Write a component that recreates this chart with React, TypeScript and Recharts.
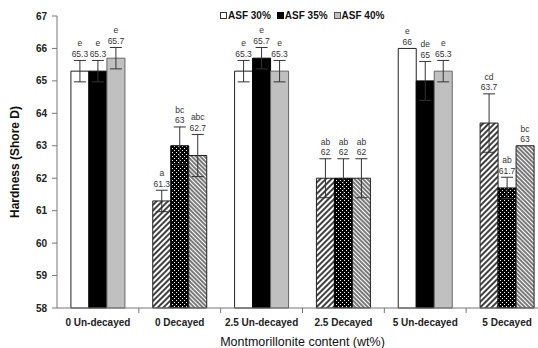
import React from 'react';
import { BarChart, Bar, XAxis, YAxis, ErrorBar, LabelList, Cell } from 'recharts';

// categories and series
const categories = ['0 Un-decayed', '0 Decayed', '2.5 Un-decayed', '2.5 Decayed', '5 Un-decayed', '5 Decayed'];
const asf30 = [65.3, 61.3, 65.3, 62, 66, 63.7];
const asf35 = [65.3, 63, 65.7, 62, 65, 61.7];
const asf40 = [65.7, 62.7, 65.3, 62, 65.3, 63];
const err30 = [0.33, 0.33, 0.33, 0.6, 0, 0.9];
const err35 = [0.33, 0.58, 0.33, 0.6, 0.6, 0.33];
const err40 = [0.33, 0.65, 0.33, 0.6, 0.33, 0];
const letters30 = ['e', 'a', 'e', 'ab', 'e', 'cd'];
const letters35 = ['e', 'bc', 'e', 'ab', 'de', 'ab'];
const letters40 = ['e', 'abc', 'e', 'ab', 'e', 'bc'];
const yTicks = [58, 59, 60, 61, 62, 63, 64, 65, 66, 67];

const decayed = categories.map((c) => c.includes(' Decayed'));

const data = categories.map((name, i) => ({
  name,
  v30: asf30[i],
  v35: asf35[i],
  v40: asf40[i],
  e30: err30[i],
  e35: err35[i],
  e40: err40[i],
}));

const FONT = '"Liberation Sans", Arial, sans-serif';
const CHART_W = 548;
const CHART_H = 348;
const Y_W = 57;
const BAND = (CHART_W - Y_W) / categories.length;
const Y_MIN = 58;

const makeLabel = (letters: string[], errs: number[]) => (props: any) => {
  const { x, y, width, height, value, index } = props;
  const perUnit = height / (value - Y_MIN);
  const top = y - errs[index] * perUnit;
  const cx = x + width / 2;
  return (
    <g fontFamily={FONT} fontSize={8.5} fill="#333" textAnchor="middle" opacity={0.99}>
      <text x={cx} y={top - 14}>{letters[index]}</text>
      <text x={cx} y={top - 3.5}>{String(value)}</text>
    </g>
  );
};

const XTick = (props: any) => {
  const { x, y, payload } = props;
  return (
    <g>
      <line x1={x + BAND / 2} x2={x + BAND / 2} y1={y} y2={y + 5} stroke="#777" />
      <text x={x} y={y + 18} textAnchor="middle" fontFamily={FONT} fontSize={10} fontWeight="bold" fill="#222">
        {payload.value}
      </text>
    </g>
  );
};

const YTitle = (props: any) => {
  const vb = props.viewBox || {};
  const cy = vb.y + vb.height / 2;
  return (
    <text
      transform={`translate(${vb.x + 19}, ${cy}) rotate(-90)`}
      textAnchor="middle"
      fontFamily={FONT}
      fontSize={12}
      fontWeight="bold"
      fill="#111"
    >
      Hardness (Shore D)
    </text>
  );
};

const legendItems = [
  { label: 'ASF 30%', fill: '#fff', border: '#333' },
  { label: 'ASF 35%', fill: '#000', border: '#000' },
  { label: 'ASF 40%', fill: '#c0c0c0', border: '#555' },
];

export default function App() {
  return (
    <div style={{ position: 'fixed', left: 0, top: 0, width: 538, height: 348, overflow: 'hidden', background: '#fff' }}>
      <BarChart
        width={CHART_W}
        height={CHART_H}
        data={data}
        margin={{ top: 16, right: 0, left: 0, bottom: 0 }}
        barCategoryGap="17%"
        barGap={0}
      >
        <defs>
          <pattern id="hatchFwd" width="4" height="4" patternUnits="userSpaceOnUse" patternTransform="rotate(45)">
            <rect width="4" height="4" fill="#fff" />
            <line x1="1" y1="0" x2="1" y2="4" stroke="#000" strokeWidth="1.5" />
          </pattern>
          <pattern id="hatchBack" width="3" height="3" patternUnits="userSpaceOnUse" patternTransform="rotate(-45)">
            <rect width="3" height="3" fill="#fff" />
            <line x1="1" y1="0" x2="1" y2="3" stroke="#222" strokeWidth="1.2" />
          </pattern>
          <pattern id="dots" width="4" height="4" patternUnits="userSpaceOnUse">
            <rect width="4" height="4" fill="#000" />
            <rect x="0" y="0" width="1" height="1" fill="#fff" />
            <rect x="2" y="2" width="1" height="1" fill="#fff" />
          </pattern>
        </defs>
        <XAxis
          dataKey="name"
          height={40}
          stroke="#777"
          tickLine={false}
          tickSize={0}
          tickMargin={0}
          tick={<XTick />}
          interval={0}
          label={{
            value: 'Montmorillonite content (wt%)',
            position: 'insideBottom',
            offset: 2,
            style: { fontFamily: FONT, fontSize: 12.5, fill: '#111' },
          }}
        />
        <YAxis
          width={Y_W}
          domain={[Y_MIN, 67]}
          ticks={yTicks}
          interval={0}
          stroke="#777"
          tickSize={5}
          tickMargin={5}
          tick={{ fontFamily: FONT, fontSize: 10, fontWeight: 'bold', fill: '#222' }}
          label={<YTitle />}
        />
        <Bar dataKey="v30" isAnimationActive={false} strokeWidth={1}>
          {data.map((_, i) => (
            <Cell key={i} fill={decayed[i] ? 'url(#hatchFwd)' : '#fff'} stroke="#222" />
          ))}
          <ErrorBar dataKey="e30" width={6} stroke="#333" strokeWidth={1} direction="y" />
          <LabelList dataKey="v30" content={makeLabel(letters30, err30)} />
        </Bar>
        <Bar dataKey="v35" isAnimationActive={false} strokeWidth={1}>
          {data.map((_, i) => (
            <Cell key={i} fill={decayed[i] ? 'url(#dots)' : '#000'} stroke="#000" />
          ))}
          <ErrorBar dataKey="e35" width={6} stroke="#333" strokeWidth={1} direction="y" />
          <LabelList dataKey="v35" content={makeLabel(letters35, err35)} />
        </Bar>
        <Bar dataKey="v40" isAnimationActive={false} strokeWidth={1}>
          {data.map((_, i) => (
            <Cell key={i} fill={decayed[i] ? 'url(#hatchBack)' : '#c0c0c0'} stroke={decayed[i] ? '#222' : '#666'} />
          ))}
          <ErrorBar dataKey="e40" width={6} stroke="#333" strokeWidth={1} direction="y" />
          <LabelList dataKey="v40" content={makeLabel(letters40, err40)} />
        </Bar>
      </BarChart>
      <div
        style={{
          position: 'absolute',
          left: 220,
          top: 9,
          display: 'flex',
          fontFamily: FONT,
          fontSize: 10,
          fontWeight: 'bold',
          color: '#111',
          lineHeight: '13px',
        }}
      >
        {legendItems.map((it) => (
          <div key={it.label} style={{ display: 'flex', alignItems: 'center', marginRight: 6 }}>
            <span
              style={{
                display: 'inline-block',
                width: 5,
                height: 5,
                background: it.fill,
                border: `1px solid ${it.border}`,
                marginRight: 1,
              }}
            />
            <span>{it.label}</span>
          </div>
        ))}
      </div>
    </div>
  );
}
